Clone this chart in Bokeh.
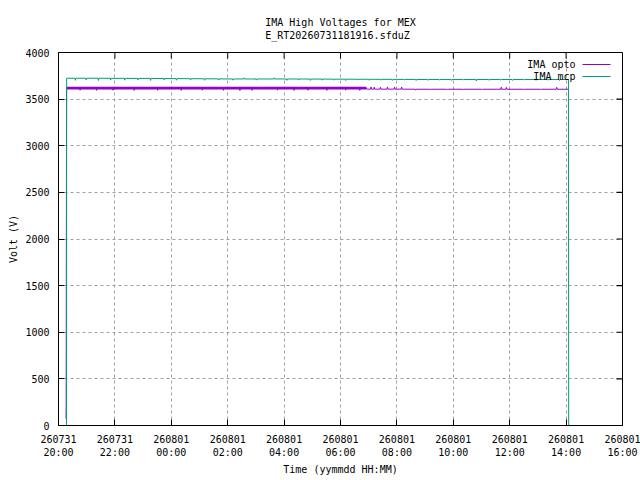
import pandas as pd
from bokeh.plotting import figure
from bokeh.models import (FixedTicker, DatetimeTickFormatter, Range1d, Label, BoxAnnotation)
from bokeh.embed import file_html
from bokeh.resources import INLINE

FONT = "DejaVu Sans Mono"
YEAR = "2026-"

title_text = "IMA High Voltages for MEX\nE_RT20260731181916.sfduZ"
x_label = "Time (yymmdd HH:MM)"
y_label = "Volt (V)"
legend_labels = ["IMA opto", "IMA mcp"]

x_start = "07-31 20:00"
x_end = "08-01 16:00"
tick_times = ["07-31 20:00", "07-31 22:00", "08-01 00:00", "08-01 02:00", "08-01 04:00",
              "08-01 06:00", "08-01 08:00", "08-01 10:00", "08-01 12:00", "08-01 14:00",
              "08-01 16:00"]
y_ticks = [0, 500, 1000, 1500, 2000, 2500, 3000, 3500, 4000]

# IMA opto
opto_times = [
    "07-31 20:16:00", "07-31 20:16:20", "07-31 20:17:10",
    "07-31 20:45", "07-31 20:46", "07-31 20:47",
    "07-31 21:20", "07-31 21:21", "07-31 21:22",
    "07-31 21:55", "07-31 21:56", "07-31 21:57",
    "07-31 22:40", "07-31 22:41", "07-31 22:42",
    "07-31 23:30", "07-31 23:31", "07-31 23:32",
    "08-01 00:20", "08-01 00:21", "08-01 00:22",
    "08-01 01:05", "08-01 01:06", "08-01 01:07",
    "08-01 01:50", "08-01 01:51", "08-01 01:52",
    "08-01 02:25", "08-01 02:26", "08-01 02:27",
    "08-01 02:51", "08-01 02:52", "08-01 02:53",
    "08-01 03:45", "08-01 03:46", "08-01 03:47",
    "08-01 04:20", "08-01 04:21", "08-01 04:22",
    "08-01 04:50", "08-01 04:51", "08-01 04:52",
    "08-01 05:30", "08-01 05:31", "08-01 05:32",
    "08-01 06:10", "08-01 06:11", "08-01 06:12",
    "08-01 06:40", "08-01 06:41", "08-01 06:42",
    "08-01 06:55", "08-01 06:56",
    "08-01 07:04", "08-01 07:05", "08-01 07:06",
    "08-01 07:11", "08-01 07:12", "08-01 07:13",
    "08-01 07:24", "08-01 07:25", "08-01 07:26",
    "08-01 07:39", "08-01 07:40", "08-01 07:41",
    "08-01 07:54", "08-01 07:55", "08-01 07:56",
    "08-01 08:09", "08-01 08:10", "08-01 08:11",
    "08-01 08:39", "08-01 08:40", "08-01 08:41",
    "08-01 09:10", "08-01 09:11", "08-01 09:12",
    "08-01 09:45", "08-01 09:46", "08-01 09:47",
    "08-01 10:20", "08-01 10:21", "08-01 10:22",
    "08-01 11:00", "08-01 11:01", "08-01 11:02",
    "08-01 11:41", "08-01 11:42", "08-01 11:43",
    "08-01 11:52", "08-01 11:53", "08-01 11:54",
    "08-01 12:30", "08-01 12:31", "08-01 12:32",
    "08-01 13:05", "08-01 13:06", "08-01 13:07",
    "08-01 13:39", "08-01 13:40", "08-01 13:41",
    "08-01 14:04",
]
opto_values = [
    75, 190, 3618,
    3618, 3595, 3618,
    3618, 3594, 3618,
    3618, 3596, 3618,
    3618, 3593, 3618,
    3618, 3595, 3618,
    3618, 3594, 3618,
    3618, 3596, 3618,
    3618, 3594, 3618,
    3618, 3592, 3618,
    3618, 3594, 3618,
    3618, 3596, 3618,
    3618, 3593, 3618,
    3618, 3595, 3618,
    3618, 3594, 3618,
    3618, 3596, 3618,
    3618, 3594, 3618,
    3618, 3607,
    3607, 3631, 3607,
    3607, 3630, 3607,
    3607, 3628, 3607,
    3607, 3631, 3607,
    3607, 3629, 3607,
    3607, 3630, 3607,
    3606, 3596, 3606,
    3606, 3599, 3606,
    3606, 3600, 3606,
    3606, 3598, 3606,
    3606, 3600, 3606,
    3606, 3628, 3606,
    3606, 3626, 3606,
    3606, 3599, 3606,
    3606, 3600, 3606,
    3606, 3627, 3606,
    3606,
]
# dense two-level flicker of the opto reading (envelope)
opto_band_times = ["07-31 20:17:10", "08-01 06:55"]
opto_band_low = [3604, 3604]
opto_band_high = [3633, 3633]

# IMA mcp
mcp_times = [
    "07-31 20:17:00", "07-31 20:17:20",
    "07-31 20:35", "07-31 20:36", "07-31 20:37",
    "07-31 20:58", "07-31 20:59", "07-31 21:00",
    "07-31 21:24", "07-31 21:25", "07-31 21:26",
    "07-31 21:50", "07-31 21:51", "07-31 21:52",
    "07-31 22:20", "07-31 22:21", "07-31 22:22",
    "07-31 22:48", "07-31 22:49", "07-31 22:50",
    "07-31 23:15", "07-31 23:16", "07-31 23:17",
    "07-31 23:44", "07-31 23:45", "07-31 23:46",
    "08-01 00:10", "08-01 00:11", "08-01 00:12",
    "08-01 00:40", "08-01 00:41", "08-01 00:42",
    "08-01 01:10", "08-01 01:11", "08-01 01:12",
    "08-01 01:40", "08-01 01:41", "08-01 01:42",
    "08-01 02:10", "08-01 02:11", "08-01 02:12",
    "08-01 02:34", "08-01 02:35", "08-01 02:36",
    "08-01 03:00", "08-01 03:01", "08-01 03:02",
    "08-01 03:38", "08-01 03:39", "08-01 03:40",
    "08-01 04:05", "08-01 04:06", "08-01 04:07",
    "08-01 04:30", "08-01 04:31", "08-01 04:32",
    "08-01 04:55", "08-01 04:56", "08-01 04:57",
    "08-01 05:20", "08-01 05:21", "08-01 05:22",
    "08-01 05:45", "08-01 05:46", "08-01 05:47",
    "08-01 06:10", "08-01 06:11", "08-01 06:12",
    "08-01 06:35", "08-01 06:36", "08-01 06:37",
    "08-01 07:00", "08-01 07:01", "08-01 07:02",
    "08-01 07:25", "08-01 07:26", "08-01 07:27",
    "08-01 07:50", "08-01 07:51", "08-01 07:52",
    "08-01 08:15", "08-01 08:16", "08-01 08:17",
    "08-01 08:40", "08-01 08:41", "08-01 08:42",
    "08-01 09:05", "08-01 09:06", "08-01 09:07",
    "08-01 09:30", "08-01 09:31", "08-01 09:32",
    "08-01 09:55", "08-01 09:56", "08-01 09:57",
    "08-01 10:20", "08-01 10:21", "08-01 10:22",
    "08-01 10:48", "08-01 10:49", "08-01 10:50",
    "08-01 11:15", "08-01 11:16", "08-01 11:17",
    "08-01 11:40", "08-01 11:41", "08-01 11:42",
    "08-01 12:05", "08-01 12:06", "08-01 12:07",
    "08-01 12:30", "08-01 12:31", "08-01 12:32",
    "08-01 12:55", "08-01 12:56", "08-01 12:57",
    "08-01 13:20", "08-01 13:21", "08-01 13:22",
    "08-01 13:45", "08-01 13:46", "08-01 13:47",
    "08-01 14:05:00", "08-01 14:05:30",
]
mcp_values = [
    0, 3724,
    3724, 3702, 3724,
    3724, 3706, 3724,
    3724, 3700, 3724,
    3723, 3704, 3723,
    3723, 3703, 3723,
    3722, 3706, 3722,
    3722, 3701, 3722,
    3721, 3705, 3721,
    3720, 3703, 3720,
    3719, 3706, 3719,
    3718, 3702, 3718,
    3717, 3704, 3717,
    3716, 3703, 3716,
    3716, 3728, 3716,
    3716, 3704, 3716,
    3716, 3728, 3716,
    3716, 3702, 3716,
    3716, 3704, 3716,
    3715, 3701, 3715,
    3715, 3703, 3715,
    3714, 3703, 3714,
    3714, 3700, 3714,
    3713, 3704, 3713,
    3713, 3702, 3713,
    3712, 3703, 3712,
    3712, 3701, 3712,
    3711, 3704, 3711,
    3711, 3700, 3711,
    3710, 3702, 3710,
    3710, 3703, 3710,
    3710, 3701, 3710,
    3710, 3704, 3710,
    3710, 3695, 3710,
    3710, 3702, 3710,
    3710, 3703, 3710,
    3710, 3701, 3710,
    3710, 3704, 3710,
    3710, 3702, 3710,
    3710, 3703, 3710,
    3710, 3701, 3710,
    3710, 0,
]

OPTO_COLOR = "#9400d3"
MCP_COLOR = "#009e73"
series_colors = [OPTO_COLOR, MCP_COLOR]

FRAME_W = 564
FRAME_H = 373
TICK_LEN = 6
HALF_PX_MS = 64000      # half a pixel on the time axis, in ms
HALF_PX_V = 5.4         # half a pixel on the voltage axis, in volts


def to_dt(lst):
    return pd.to_datetime([YEAR + s for s in lst], format="mixed")


p = figure(width=640, height=480, x_axis_type="datetime",
           output_backend="svg", toolbar_location=None,
           x_range=Range1d(to_dt([x_start])[0], to_dt([x_end])[0]),
           y_range=Range1d(y_ticks[0], y_ticks[-1]),
           min_border_left=58, min_border_right=18, min_border_top=52, min_border_bottom=55)

p.title.text = title_text
p.title.align = "center"
p.title.text_font = FONT
p.title.text_font_size = "10px"
p.title.text_font_style = "normal"
p.title.text_color = "black"
p.title.text_line_height = 1.2
p.title.standoff = 22

p.outline_line_color = "black"
p.outline_line_width = 1
p.background_fill_color = "white"
p.border_fill_color = "white"

tick_ms = [t.value // 10**6 for t in to_dt(tick_times)]
xticker = FixedTicker(ticks=tick_ms)
yticker = FixedTicker(ticks=y_ticks)
fmt = "%y%m%d\n%H:%M"
xfmt = DatetimeTickFormatter(minutes=fmt, hourmin=fmt, hours=fmt, days=fmt, months=fmt)

p.xaxis.ticker = xticker
p.xaxis.formatter = xfmt
p.yaxis.ticker = yticker

for ax in (p.xaxis[0], p.yaxis[0]):
    ax.major_tick_in = TICK_LEN
    ax.major_tick_out = 0
    ax.minor_tick_line_color = None
    ax.major_tick_line_color = "black"
    ax.axis_line_color = "black"
    ax.major_label_text_font = FONT
    ax.major_label_text_font_size = "10px"
    ax.major_label_text_color = "black"
    ax.axis_label_text_font = FONT
    ax.axis_label_text_font_size = "10px"
    ax.axis_label_text_font_style = "normal"
    ax.axis_label_text_color = "black"

p.xaxis.axis_label = x_label
p.yaxis.axis_label = y_label
p.xaxis.major_label_standoff = 8
p.xaxis.axis_label_standoff = 3
p.yaxis.major_label_standoff = 9
p.yaxis.axis_label_standoff = 3

p.xgrid[0].ticker = xticker
p.ygrid[0].ticker = yticker
for g in (p.xgrid[0], p.ygrid[0]):
    g.grid_line_color = "#a0a0a0"
    g.grid_line_dash = "3 3"
    g.grid_line_width = 1

# mirrored inward ticks on the top and right edges of the frame
for yv in y_ticks[1:-1]:
    p.add_layout(BoxAnnotation(left=FRAME_W - TICK_LEN, right=FRAME_W,
                               left_units="screen", right_units="screen",
                               bottom=yv - HALF_PX_V, top=yv + HALF_PX_V,
                               fill_color="black", fill_alpha=1.0, line_color=None))
for tv in tick_ms[1:-1]:
    p.add_layout(BoxAnnotation(left=tv - HALF_PX_MS, right=tv + HALF_PX_MS,
                               bottom=FRAME_H - TICK_LEN, top=FRAME_H,
                               bottom_units="screen", top_units="screen",
                               fill_color="black", fill_alpha=1.0, line_color=None))

band_t = to_dt(opto_band_times)
p.varea(x=band_t, y1=opto_band_low, y2=opto_band_high, fill_color=OPTO_COLOR, fill_alpha=1.0)
r_opto = p.line(to_dt(opto_times), opto_values, line_color=OPTO_COLOR, line_width=1)
r_mcp = p.line(to_dt(mcp_times), mcp_values, line_color=MCP_COLOR, line_width=1)

# gnuplot-style key (screen pixels from the plot frame's bottom-left):
# right-aligned text, then a short sample line to its right
KEY_TEXT_RIGHT = 517
KEY_LINE_LEFT = 524
KEY_LINE_RIGHT = 552
KEY_TOP_ROW = 361
KEY_ROW_STEP = 12
for i, (lab, col) in enumerate(zip(legend_labels, series_colors)):
    ky = KEY_TOP_ROW - i * KEY_ROW_STEP
    p.add_layout(Label(x=KEY_TEXT_RIGHT, y=ky, x_units="screen", y_units="screen",
                       text=lab, text_align="right", text_baseline="middle",
                       text_font=FONT, text_font_size="10px", text_color="black"))
    p.add_layout(BoxAnnotation(left=KEY_LINE_LEFT, right=KEY_LINE_RIGHT,
                               bottom=ky - 0.5, top=ky + 0.5,
                               left_units="screen", right_units="screen",
                               bottom_units="screen", top_units="screen",
                               fill_color=col, fill_alpha=1.0, line_color=None))

open("out.html", "w").write(file_html(p, INLINE))
